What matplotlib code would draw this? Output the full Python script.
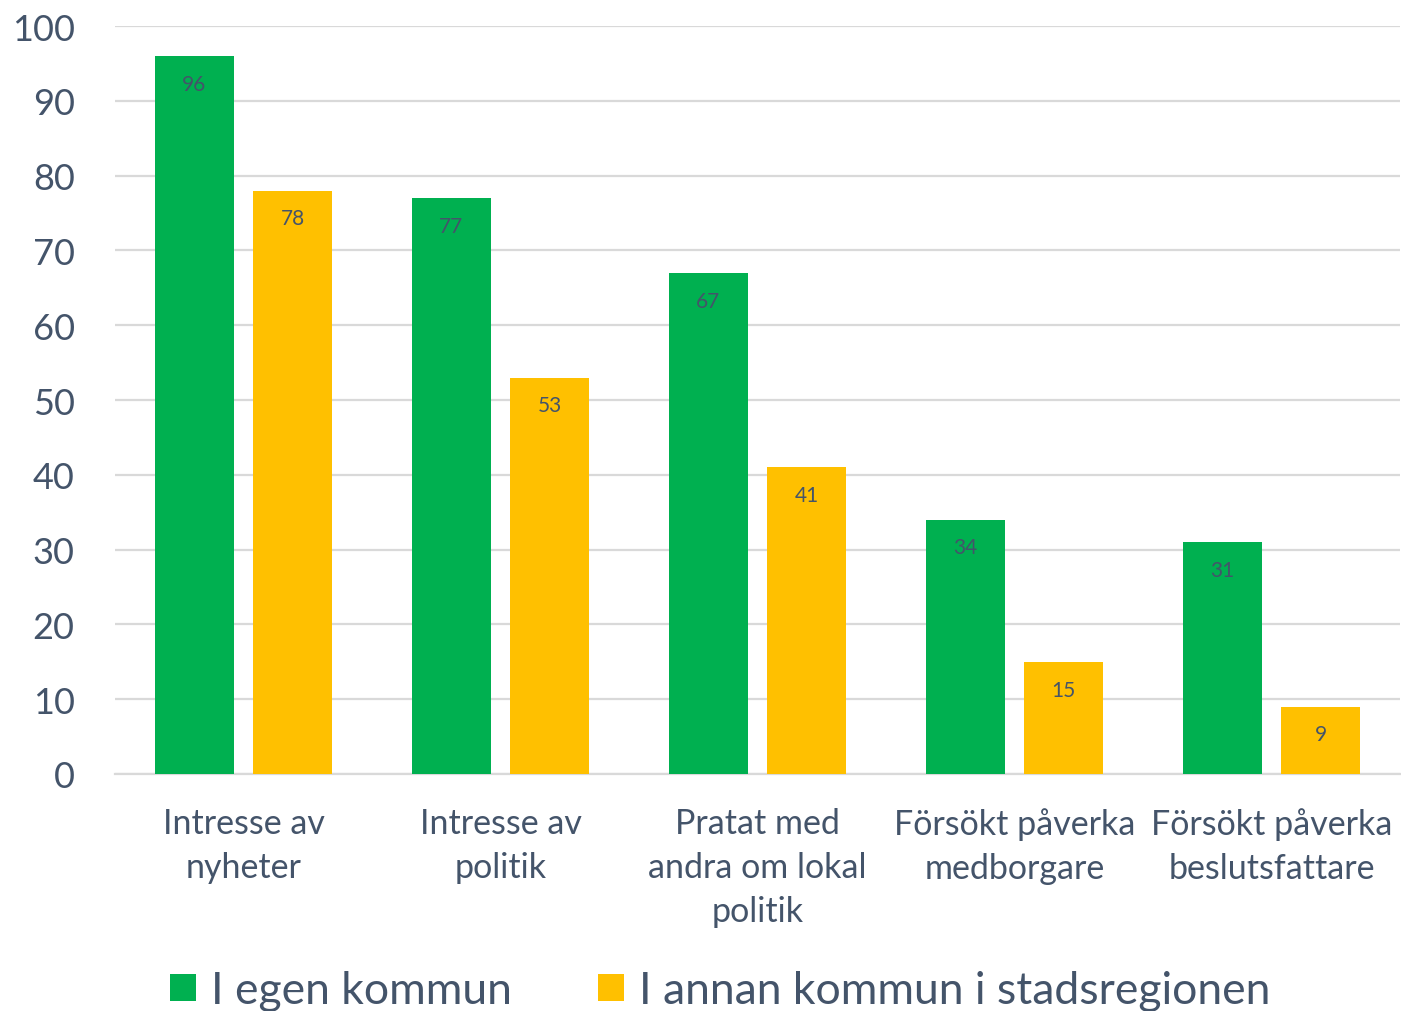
import numpy as np
import matplotlib.pyplot as plt

# data
categories = ['Intresse av\nnyheter', 'Intresse av\npolitik', 'Pratat med\nandra om lokal\npolitik',
              'Försökt påverka\nmedborgare', 'Försökt påverka\nbeslutsfattare']
egen = [96, 77, 67, 34, 31]
annan = [78, 53, 41, 15, 9]
series_names = ['I egen kommun', 'I annan kommun i stadsregionen']

text_col = '#44546A'
green = '#00B050'
yellow = '#FFC000'

plt.rcParams['font.family'] = ['Lato', 'DejaVu Sans']

fig = plt.figure(figsize=(14.01, 10.12), dpi=100)
ax = fig.add_axes([0.0821, 0.2342, 0.9172, 0.7391])

x = np.arange(len(categories))
w = 0.307
off = 0.192
b1 = ax.bar(x - off, egen, w, color=green, label=series_names[0], zorder=3)
b2 = ax.bar(x + off, annan, w, color=yellow, label=series_names[1], zorder=3)

# value labels just inside the top of each bar
for bars in (b1, b2):
    for r in bars:
        ax.annotate(f'{r.get_height():.0f}', (r.get_x() + r.get_width() / 2, r.get_height()),
                    xytext=(0, -20), textcoords='offset points', ha='center', va='center',
                    fontsize=15, color=text_col, zorder=4)

ax.set_xlim(-0.5, 4.5)
ax.set_ylim(0, 100)
ax.set_yticks(range(0, 101, 10))
ax.set_xticks(x)
ax.set_xticklabels(categories, fontsize=24.5, color=text_col, linespacing=1.46)
ax.tick_params(axis='y', labelsize=26, labelcolor=text_col, length=0, pad=29)
ax.tick_params(axis='x', length=0, pad=24)
for lab in ax.get_yticklabels():
    lab.set_horizontalalignment('right')

ax.grid(axis='y', color='#D9D9D9', linewidth=1.6, zorder=0)
for s in ['top', 'right', 'left']:
    ax.spines[s].set_visible(False)
ax.spines['bottom'].set_color('#D9D9D9')
ax.spines['bottom'].set_linewidth(1.6)

fig.legend(handles=[b1, b2], labels=series_names, loc='center', bbox_to_anchor=(0.514, 0.02),
           ncol=2, frameon=False, fontsize=32, labelcolor=text_col, handlelength=0.57,
           handleheight=0.57, handletextpad=0.34, columnspacing=1.95)

fig.savefig('out.png', dpi=100)
